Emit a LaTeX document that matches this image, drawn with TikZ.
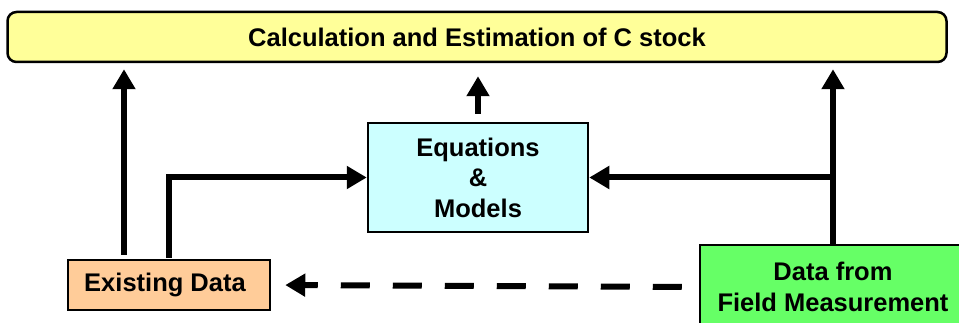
\documentclass[tikz,border=0pt]{standalone}
\usepackage{fontspec}
\setmainfont{Liberation Sans}
\usetikzlibrary{arrows.meta}

\definecolor{calcyellow}{HTML}{FFFF99}
\definecolor{eqncyan}{HTML}{CCFFFF}
\definecolor{existorange}{HTML}{FFCC99}
\definecolor{fieldgreen}{HTML}{66FF66}

\begin{document}
\begin{tikzpicture}[
  x=1pt, y=-1pt,
  box/.style={draw, line width=2.5pt, align=center, inner sep=0pt,
              font=\bfseries\fontsize{25.5}{30.5}\selectfont},
  arr/.style={line width=6pt, -{Triangle[length=20pt,width=22pt]}}]
  \useasboundingbox (0,0) rectangle (959,323);
  \clip (0,0) rectangle (959,323);
  \node[box, fill=calcyellow, rounded corners=9pt, minimum width=939pt,
        minimum height=50pt] (calc) at (477,37) {Calculation and Estimation of C stock};
  \node[box, fill=eqncyan, minimum width=220pt, minimum height=109pt]
        (eqn) at (478,177.5) {Equations\\\&\\Models};
  \node[box, fill=existorange, minimum width=202pt, minimum height=50pt]
        (exist) at (169,285) {\hspace*{-8pt}Existing Data};
  \node[box, fill=fieldgreen, minimum width=266pt, minimum height=84pt]
        (field) at (833,287) {Data from\\Field Measurement};
  \coordinate (exA) at (124,255);
  \coordinate (exB) at (169,258);
  \coordinate (eqA) at ([yshift=8pt]eqn.north);
  \coordinate (calcA) at ([yshift=-13pt]calc.south -| eqn.north);
  \draw[arr, shorten >=6pt] (exA) -- (exA |- calc.south);
  \draw[arr] (exB) |- (eqn.west);
  \draw[arr] (eqA) -- (calcA);
  \draw[arr, shorten >=6pt] (field.north) -- (field.north |- calc.south);
  \draw[arr] (field.north |- eqn.east) -- (eqn.east);
  \draw[arr, dash pattern=on 29pt off 23pt, shorten <=17pt, shorten >=14pt]
        (field.west) -- (exist.east);
\end{tikzpicture}
\end{document}
